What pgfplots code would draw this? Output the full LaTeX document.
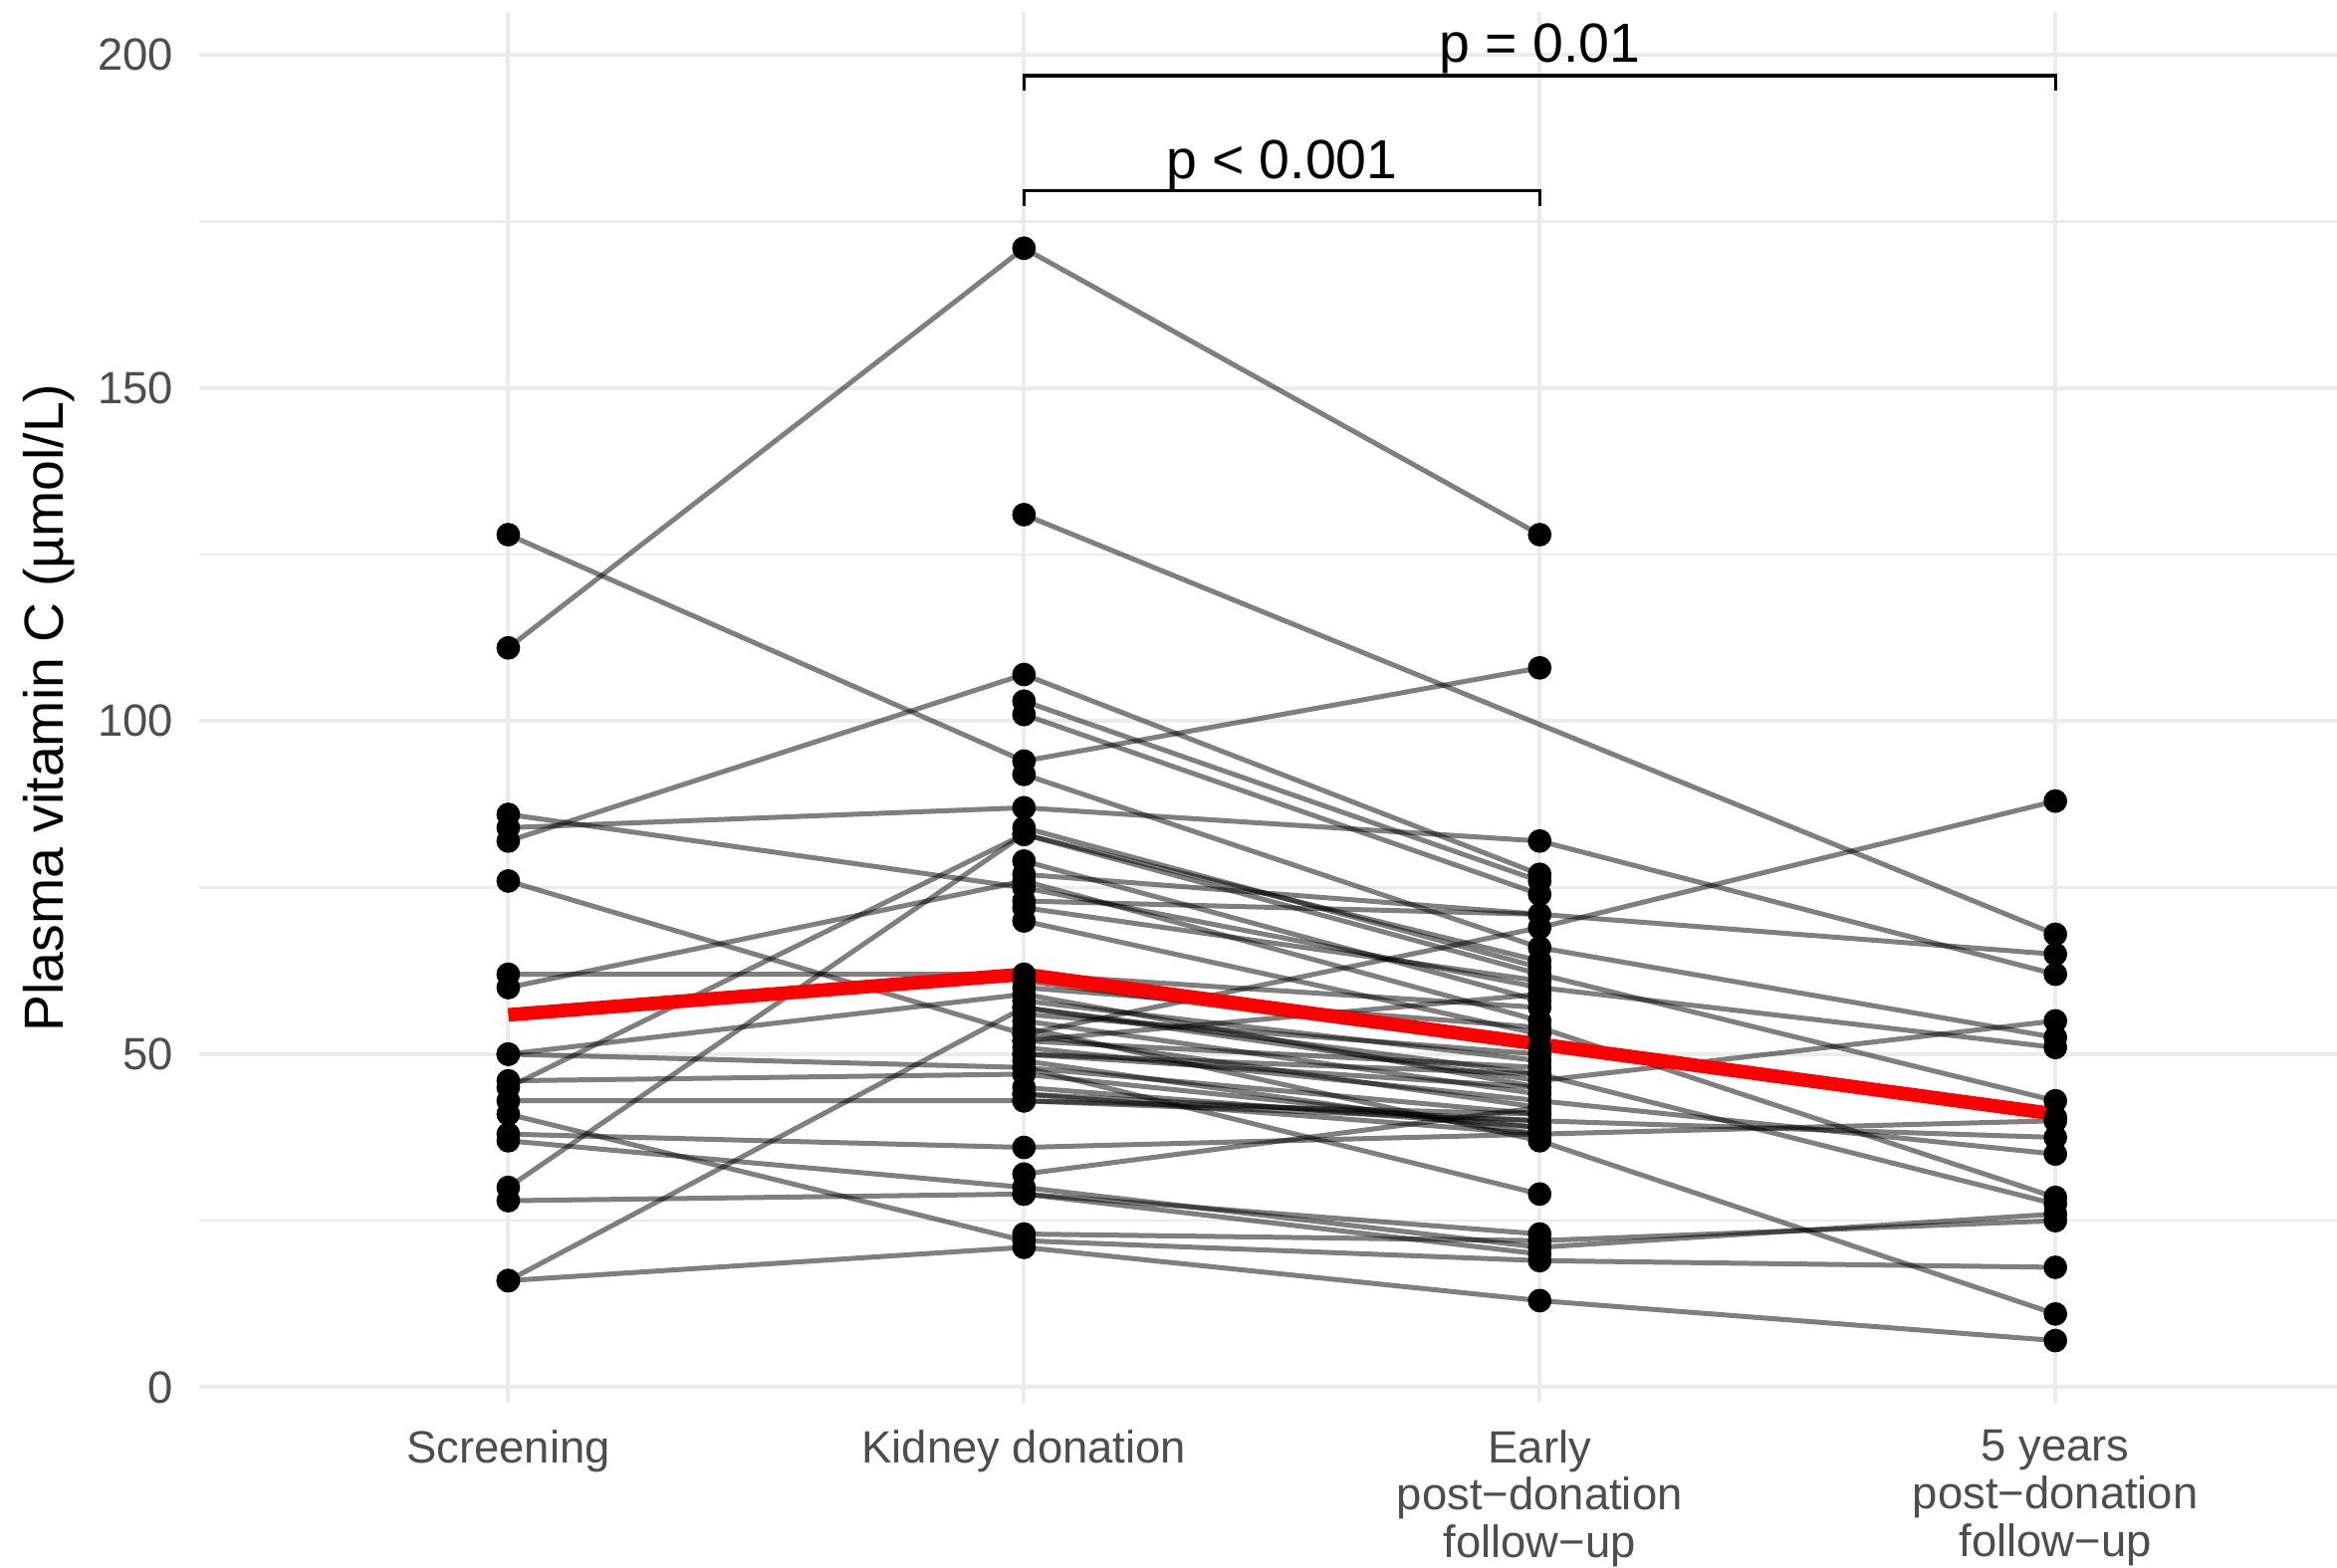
\documentclass[border=0pt]{standalone}
\usepackage{fontspec}
\setmainfont{Liberation Sans}
\usepackage{pgfplots}
\usepackage{pgfplotstable}
\pgfplotsset{compat=1.18}
\definecolor{gridc}{HTML}{EBEBEB}
\definecolor{tickc}{HTML}{4D4D4D}

% long format: subject id, time point (1..4), plasma vitamin C
\pgfplotstableread{
id t v
1 1 128
1 2 94
1 3 108
2 1 111
2 2 171
2 3 128
3 1 86
3 2 75
3 3 60
3 4 51
4 1 84
4 2 87
4 3 82
4 4 62
5 1 82
5 2 107
5 3 77
6 1 76
6 2 53
6 3 69
6 4 88
7 1 62
7 2 62
7 3 57
8 1 60
8 2 76
8 3 55
9 1 50
9 2 59
9 3 45
10 1 50
10 2 48
10 3 41
11 1 46
11 2 47
11 3 39
12 1 45
12 2 83
12 3 62
12 4 43
13 1 43
13 2 43
13 3 40
14 1 41
14 2 22
14 3 19
14 4 18
15 1 38
15 2 36
15 3 38
15 4 40
16 1 37
16 2 30
16 3 21
16 4 26
17 1 30
17 2 83
17 3 64
18 1 28
18 2 29
18 3 23
19 1 16
19 2 57
19 3 47
19 4 27.5
20 1 16
20 2 21
20 3 13
20 4 7
21 2 131
21 4 68
22 2 103
22 3 76
23 2 101
23 3 74
24 2 92
24 3 66
24 4 52.5
25 2 84
25 3 63
26 2 79
26 3 58
27 2 77
27 4 65
28 2 73
28 3 71
29 2 72
29 3 61
30 2 70
30 3 53
31 2 61
31 3 51
31 4 40.5
32 2 60
32 3 54
32 4 28.5
33 2 58
33 3 49
34 2 57
34 3 46
34 4 55
35 2 56
35 3 50
36 2 55
36 3 44
37 2 54
37 3 37
37 4 11
38 2 53
38 3 42
39 2 52
39 3 48
40 2 51
40 3 43
40 4 35
41 2 50
41 3 45
42 2 49
42 3 38
43 2 44
43 3 40
43 4 37.5
44 2 32
44 3 42
45 2 29
45 3 20
46 2 23
46 3 22
46 4 25
47 2 50
47 3 47
48 2 45
48 3 39
49 2 52
49 3 59
50 2 48
50 3 29
51 2 43
51 3 41
52 2 44
52 3 38
}\vitc

\begin{document}
\begin{tikzpicture}
\begin{axis}[
  at={(0,0)}, anchor=south west,
  scale only axis, width=515.4pt, height=335.3pt,
  xmin=0.4, xmax=4.546, ymin=-2.4, ymax=206.4,
  clip=false,
  xtick={1,2,3,4},
  xticklabels={Screening, Kidney donation, {Early\\post−donation\\follow−up}, {5 years\\post−donation\\follow−up}},
  ytick={0,50,100,150,200},
  minor ytick={25,75,125,175},
  xmajorgrids, ymajorgrids, yminorgrids,
  major grid style={draw=gridc, line width=0.95pt},
  minor grid style={draw=gridc, line width=0.55pt},
  axis line style={draw=none},
  tick style={draw=none},
  /pgf/number format/assume math mode=true,
  ticklabel style={text=tickc, font=\fontsize{10.9}{11.5}\selectfont},
  yticklabel style={anchor=east, inner sep=0pt},
  yticklabel shift=6pt,
  xticklabel style={anchor=north, inner sep=0pt, align=center},
  xticklabel shift=6.2pt,
  ylabel={Plasma vitamin C (µmol/L)},
  ylabel style={at={(axis description cs:-0.070,0.5)}, anchor=center, font=\fontsize{13.3}{16}\selectfont, text=black, inner sep=0pt},
]
\pgfplotsinvokeforeach{1,...,52}{
  \addplot[draw=black, draw opacity=0.5, line width=1.2pt, no markers, forget plot]
    table[x=t, y=v, restrict expr to domain={\thisrow{id}}{#1:#1}] {\vitc};
}
\addplot[only marks, mark=*, mark size=2.65pt, mark options={fill=black, draw=black}, forget plot]
  table[x=t, y=v] {\vitc};
\addplot[draw=red, line width=3.3pt, line join=round, no markers, forget plot]
  coordinates {(1,55.9) (2,62) (3,51.5) (4,41)};

\draw[line width=0.75pt] (axis cs:2,177.4) -- (axis cs:2,179.6) -- (axis cs:3,179.6) -- (axis cs:3,177.4);
\node[anchor=base, inner sep=0pt, font=\fontsize{13.3}{16}\selectfont] at ([yshift=3pt]axis cs:2.5,179.6) {p < 0.001};
\draw[line width=0.75pt] (axis cs:2,194.7) -- (axis cs:2,196.9) -- (axis cs:4,196.9) -- (axis cs:4,194.7);
\node[anchor=base, inner sep=0pt, font=\fontsize{13.3}{16}\selectfont] at ([yshift=3.2pt]axis cs:3,196.9) {p = 0.01};
\end{axis}
\pgfresetboundingbox
\useasboundingbox (-47.93pt,-39.52pt) rectangle (515.4pt,338.3pt);
\end{tikzpicture}
\end{document}
